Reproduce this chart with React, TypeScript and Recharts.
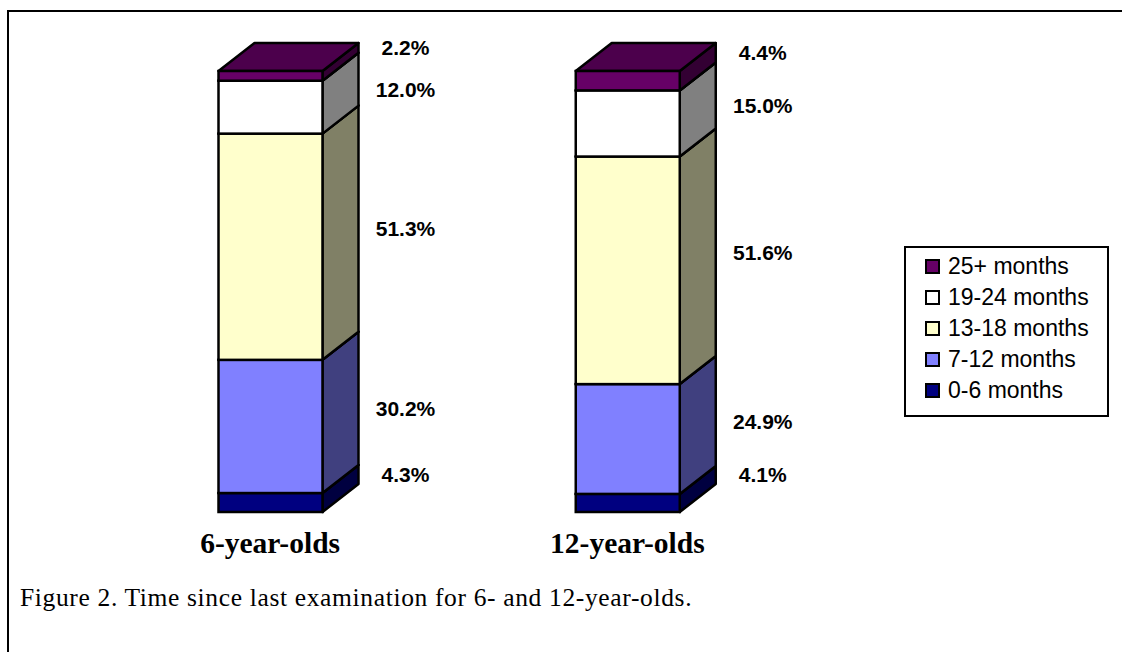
import { Bar, BarChart, LabelList, Legend, XAxis, YAxis } from 'recharts';

const CATEGORIES = ['6-year-olds', '12-year-olds'];
const MONTHS_0_6 = [4.3, 4.1];
const MONTHS_7_12 = [30.2, 24.9];
const MONTHS_13_18 = [51.3, 51.6];
const MONTHS_19_24 = [12.0, 15.0];
const MONTHS_25_PLUS = [2.2, 4.4];

const CAPTION = 'Figure 2. Time since last examination for 6- and 12-year-olds.';

// bottom to top, colours are front / side / top faces
const SERIES = [
  { key: 'm0_6', label: '0-6 months', values: MONTHS_0_6, front: '#000080', side: '#000040', top: '#000060' },
  { key: 'm7_12', label: '7-12 months', values: MONTHS_7_12, front: '#8080FF', side: '#40407F', top: '#6060BF' },
  { key: 'm13_18', label: '13-18 months', values: MONTHS_13_18, front: '#FFFFCC', side: '#808066', top: '#BFBF99' },
  { key: 'm19_24', label: '19-24 months', values: MONTHS_19_24, front: '#FFFFFF', side: '#808080', top: '#BFBFBF' },
  { key: 'm25', label: '25+ months', values: MONTHS_25_PLUS, front: '#660066', side: '#330033', top: '#4C004C' },
];

const data = CATEGORIES.map((name, i) => {
  const row: Record<string, string | number> = { name };
  SERIES.forEach((s) => {
    row[s.key] = s.values[i];
  });
  return row;
});

const DX = 36;
const DY = 28;
const SANS = "'Liberation Sans', Arial, sans-serif";
const SERIF = "'Liberation Serif', 'Times New Roman', serif";

function Box3D(props: any) {
  const { x, y, width: w, height: h, front, side, top } = props;
  if (w == null || h == null) return null;
  const sidePts = `${x + w},${y} ${x + w + DX},${y - DY} ${x + w + DX},${y + h - DY} ${x + w},${y + h}`;
  const topPts = `${x},${y} ${x + DX},${y - DY} ${x + w + DX},${y - DY} ${x + w},${y}`;
  return (
    <g>
      <polygon points={sidePts} fill={side} stroke="#000" strokeWidth={2.5} strokeLinejoin="round" />
      <polygon points={topPts} fill={top} stroke="#000" strokeWidth={2.5} strokeLinejoin="round" />
      <rect x={x} y={y} width={w} height={h} fill={front} stroke="#000" strokeWidth={2.5} />
    </g>
  );
}

function PercentLabel(props: any) {
  const { x, y, width, height, value } = props;
  const v = Number(value);
  // thin slices get nudged up a bit, like the original
  const lift = v < 5 ? 28 : 18;
  return (
    <text
      x={x + width / 2 + 135}
      y={y + height / 2 - lift}
      textAnchor="middle"
      dominantBaseline="central"
      fontFamily={SANS}
      fontWeight="bold"
      fontSize={21}
      fill="#000"
    >
      {`${v.toFixed(1)}%`}
    </text>
  );
}

function CategoryTick(props: any) {
  const { x, y, payload } = props;
  return (
    <text x={x} y={y} dy={41} textAnchor="middle" fontFamily={SERIF} fontWeight="bold" fontSize={29.5} fill="#000">
      {payload.value}
    </text>
  );
}

function LegendBox() {
  return (
    <div
      style={{
        width: 205,
        height: 171,
        boxSizing: 'border-box',
        border: '2px solid #000',
        background: '#fff',
        paddingTop: 3,
        paddingLeft: 19,
        fontFamily: SANS,
        fontSize: 23,
        color: '#000',
      }}
    >
      {[...SERIES].reverse().map((s) => (
        <div key={s.key} style={{ display: 'flex', alignItems: 'center', height: 31 }}>
          <span
            style={{
              display: 'inline-block',
              width: 15,
              height: 15,
              boxSizing: 'border-box',
              border: '2px solid #000',
              background: s.front,
              marginRight: 8,
            }}
          />
          <span style={{ whiteSpace: 'nowrap' }}>{s.label}</span>
        </div>
      ))}
    </div>
  );
}

export default function App() {
  return (
    <div
      style={{
        position: 'absolute',
        left: 7,
        top: 10,
        width: 1113,
        height: 640,
        borderLeft: '2px solid #000',
        borderTop: '2px solid #000',
        background: '#fff',
        overflow: 'hidden',
      }}
    >
      <BarChart width={1100} height={560} data={data} margin={{ top: 59, right: 303, left: 82.5, bottom: 0 }}>
        <XAxis
          dataKey="name"
          axisLine={false}
          tickLine={false}
          tickSize={0}
          tickMargin={0}
          height={60}
          interval={0}
          tick={(p: any) => <CategoryTick {...p} />}
        />
        <YAxis hide domain={[0, 100]} />
        <Legend
          layout="vertical"
          align="center"
          verticalAlign="middle"
          content={() => <LegendBox />}
          wrapperStyle={{ left: 895, top: 234, width: 205, height: 171 }}
        />
        {SERIES.map((s) => (
          <Bar
            key={s.key}
            dataKey={s.key}
            stackId="months"
            barSize={104}
            isAnimationActive={false}
            shape={(p: any) => <Box3D {...p} front={s.front} side={s.side} top={s.top} />}
          >
            <LabelList dataKey={s.key} content={(p: any) => <PercentLabel {...p} />} />
          </Bar>
        ))}
      </BarChart>
      <svg width={1100} height={60} style={{ position: 'absolute', left: 0, top: 570 }}>
        <text x={11} y={24} fontFamily={SERIF} fontSize={25.5} letterSpacing={0.65} fill="#000">
          {CAPTION}
        </text>
      </svg>
    </div>
  );
}
